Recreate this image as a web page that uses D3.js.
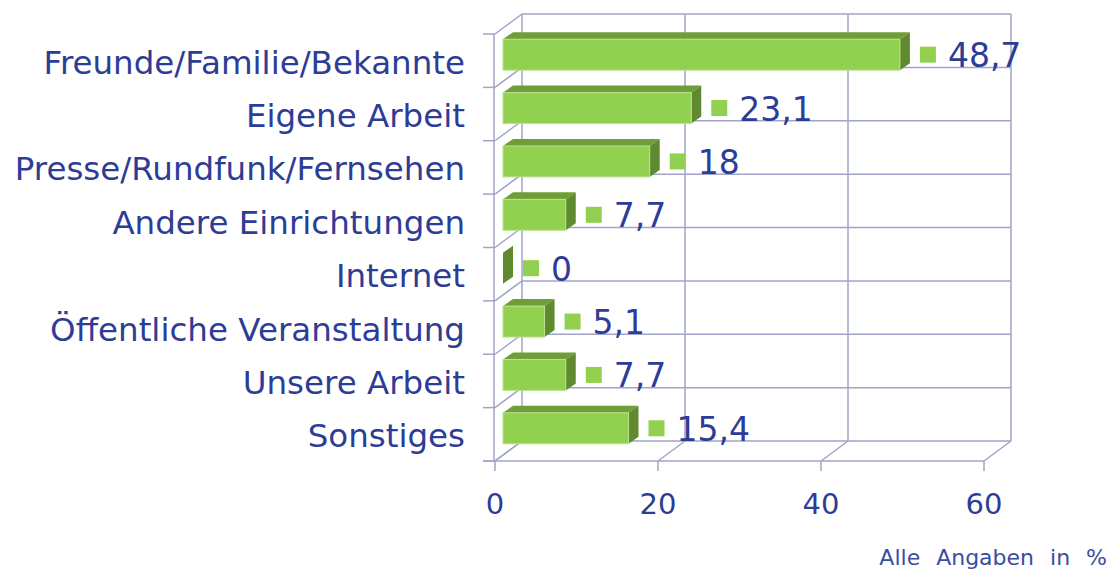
<!DOCTYPE html>
<html>
<head>
<meta charset="utf-8">
<script src="https://cdn.jsdelivr.net/npm/d3@7"></script>
<style>
  html, body { margin: 0; padding: 0; background: #ffffff; }
  svg { display: block; }
  text { font-family: Verdana, "DejaVu Sans", sans-serif; }
</style>
</head>
<body>
<script>
// ---- data ----
const categories = [
  "Freunde/Familie/Bekannte",
  "Eigene Arbeit",
  "Presse/Rundfunk/Fernsehen",
  "Andere Einrichtungen",
  "Internet",
  "Öffentliche Veranstaltung",
  "Unsere Arbeit",
  "Sonstiges"
];
const values = [48.7, 23.1, 18, 7.7, 0, 5.1, 7.7, 15.4];
const xTicks = [0, 20, 40, 60];
const footnote = "Alle Angaben in %";

// ---- layout ----
const W = 1110, H = 570;
const textColor = "#2d3d96";
const gridColor = "#a0a4c9";
const frontFace = "#92d050";
const topFace = "#6f9e38";
const sideFace = "#5f8a2f";

const depth = { dx: 27, dy: -20 };      // full depth of the 3D box
const barFront = { dx: 8, dy: -6 };     // bar front face offset from front plane
const barBack = { dx: 18, dy: -13 };    // bar back face offset from front plane

const x = d3.scaleLinear().domain([0, 60]).range([495, 984]);
const y = d3.scaleBand().domain(categories).range([34, 461]).padding(0);
const barH = y.bandwidth() * 0.58;

const svg = d3.select("body").append("svg").attr("width", W).attr("height", H);

const grid = svg.append("g")
  .attr("stroke", gridColor).attr("stroke-width", 1.5).attr("fill", "none");

const y0 = y.range()[0], y1 = y.range()[1];
const x0 = x(0), xMax = x(60);
const boundaries = categories.map(c => y(c)).concat([y1]);

// back wall vertical gridlines
grid.selectAll(".bv").data(xTicks).join("line")
  .attr("x1", d => x(d) + depth.dx).attr("x2", d => x(d) + depth.dx)
  .attr("y1", y0 + depth.dy).attr("y2", y1 + depth.dy);
// back wall horizontal gridlines
grid.selectAll(".bh").data(boundaries).join("line")
  .attr("x1", x0 + depth.dx).attr("x2", xMax + depth.dx)
  .attr("y1", d => d + depth.dy).attr("y2", d => d + depth.dy);
// left wall diagonals + ticks
grid.selectAll(".ld").data(boundaries).join("line")
  .attr("x1", x0).attr("x2", x0 + depth.dx)
  .attr("y1", d => d).attr("y2", d => d + depth.dy);
grid.selectAll(".lt").data(boundaries).join("line")
  .attr("x1", x0 - 12).attr("x2", x0)
  .attr("y1", d => d).attr("y2", d => d);
// left front vertical axis line
grid.append("line").attr("x1", x0 - 1).attr("x2", x0 - 1).attr("y1", y0).attr("y2", y1);
// floor diagonals + front edge + ticks
grid.selectAll(".fd").data(xTicks).join("line")
  .attr("x1", d => x(d)).attr("x2", d => x(d) + depth.dx)
  .attr("y1", y1).attr("y2", y1 + depth.dy);
grid.append("line").attr("x1", x0 - 12).attr("x2", xMax).attr("y1", y1).attr("y2", y1);
grid.selectAll(".bt").data(xTicks).join("line")
  .attr("x1", d => x(d)).attr("x2", d => x(d))
  .attr("y1", y1).attr("y2", y1 + 10);

// ---- bars ----
const rows = categories.map((c, i) => ({ c, v: values[i] }));
const bars = svg.append("g");
rows.forEach(r => {
  const cy = y(r.c) + y.bandwidth() / 2;
  const fx0 = x(0) + barFront.dx, fx1 = x(r.v) + barFront.dx;
  const bx1 = x(r.v) + barBack.dx, bx0 = x(0) + barBack.dx;
  const fyT = cy - barH / 2 + barFront.dy, fyB = cy + barH / 2 + barFront.dy;
  const byT = cy - barH / 2 + barBack.dy, byB = cy + barH / 2 + barBack.dy;
  // top face
  if (r.v > 0) {
    bars.append("path")
      .attr("d", `M${fx0},${fyT}L${fx1},${fyT}L${bx1},${byT}L${bx0},${byT}Z`)
      .attr("fill", topFace);
  }
  // right side face
  bars.append("path")
    .attr("d", `M${fx1},${fyT}L${bx1},${byT}L${bx1},${byB}L${fx1},${fyB}Z`)
    .attr("fill", sideFace);
  // front face
  if (r.v > 0) {
    bars.append("rect")
      .attr("x", fx0).attr("y", fyT)
      .attr("width", fx1 - fx0).attr("height", fyB - fyT)
      .attr("fill", frontFace)
      .attr("stroke", "#b9e28f").attr("stroke-width", 1);
  }
  // value label: legend key square + number
  const fcy = cy + barFront.dy;
  bars.append("rect")
    .attr("x", fx1 + 20).attr("y", fcy - 8)
    .attr("width", 16).attr("height", 16)
    .attr("fill", frontFace);
  bars.append("text")
    .attr("x", fx1 + 48).attr("y", fcy + 12.5)
    .attr("fill", textColor).attr("font-size", 33)
    .text(String(r.v).replace(".", ","));
});

// ---- category labels ----
svg.append("g").selectAll("text").data(categories).join("text")
  .attr("x", 465)
  .attr("y", d => y(d) + y.bandwidth() / 2 + 13)
  .attr("text-anchor", "end")
  .attr("font-size", 32.5)
  .attr("fill", textColor)
  .text(d => d);

// ---- x tick labels ----
svg.append("g").selectAll("text").data(xTicks).join("text")
  .attr("x", d => x(d))
  .attr("y", 514)
  .attr("text-anchor", "middle")
  .attr("font-size", 29)
  .attr("fill", textColor)
  .text(d => d);

// ---- footnote ----
svg.append("text")
  .attr("x", 1107).attr("y", 565)
  .attr("text-anchor", "end")
  .attr("font-size", 22)
  .attr("word-spacing", 9)
  .attr("fill", "#3a4d9f")
  .text(footnote);
</script>
</body>
</html>
